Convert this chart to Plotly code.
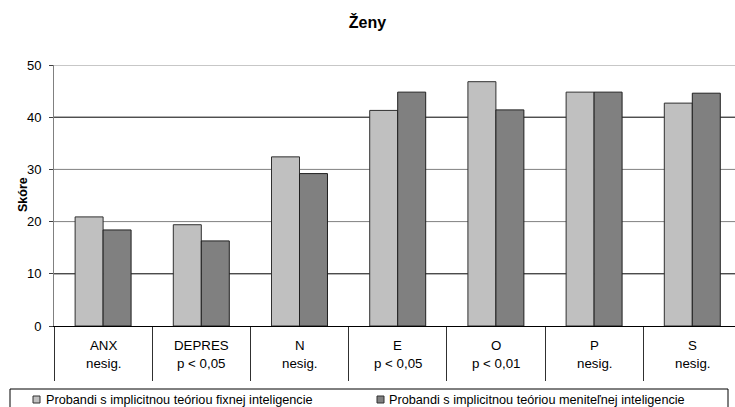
import plotly.graph_objects as go

# Scale scores by personality dimension
categories = ["ANX", "DEPRES", "N", "E", "O", "P", "S"]
significance = ["nesig.", "p < 0,05", "nesig.", "p < 0,05", "p < 0,01", "nesig.", "nesig."]
fixed_theory = [20.9, 19.4, 32.4, 41.3, 46.8, 44.8, 42.7]
growth_theory = [18.4, 16.3, 29.2, 44.8, 41.4, 44.8, 44.6]
series_names = [
    "Probandi s implicitnou teóriou fixnej inteligencie",
    "Probandi s implicitnou teóriou meniteľnej inteligencie",
]
y_ticks = [0, 10, 20, 30, 40, 50]

FONT = "Liberation Sans, Arial, sans-serif"
LIGHT = "#c0c0c0"
DARK = "#808080"

W, H = 735, 407
M_L, M_R, M_T, M_B = 54, 0, 65, 81
plot_h = H - M_T - M_B
plot_w = W - M_L - M_R


def py(px):
    """pixel row -> paper y"""
    return (H - M_B - px) / plot_h


def px_(x):
    """pixel column -> paper x"""
    return (x - M_L) / plot_w


fig = go.Figure()
fig.add_trace(go.Bar(x=categories, y=fixed_theory, name=series_names[0],
                     marker=dict(color=LIGHT, line=dict(color="#303030", width=1))))
fig.add_trace(go.Bar(x=categories, y=growth_theory, name=series_names[1],
                     marker=dict(color=DARK, line=dict(color="#202020", width=1))))

# horizontal gridlines
grid_colors = {10: "#000000", 20: "#808080", 30: "#808080", 40: "#000000", 50: "#909090"}
for v, c in grid_colors.items():
    fig.add_shape(type="line", xref="paper", yref="y", x0=0, x1=1, y0=v, y1=v,
                  line=dict(color=c, width=1), layer="below")

# category table below the axis
annotations = []
for i, (cat, sig) in enumerate(zip(categories, significance)):
    annotations.append(dict(x=i, y=py(345), xref="x", yref="paper", text=cat,
                            showarrow=False, font=dict(family=FONT, size=13.3, color="#000"),
                            xanchor="center", yanchor="middle"))
    annotations.append(dict(x=i, y=py(363), xref="x", yref="paper", text=sig,
                            showarrow=False, font=dict(family=FONT, size=13.3, color="#000"),
                            xanchor="center", yanchor="middle"))

# legend box
fig.add_shape(type="rect", xref="paper", yref="paper", x0=px_(10), x1=px_(728),
              y0=py(389), y1=py(420), line=dict(color="#000", width=1), fillcolor="rgba(0,0,0,0)")
legend_items = [(33, 44, LIGHT), (377, 387, DARK)]
for (mx, tx, col), name in zip(legend_items, series_names):
    fig.add_shape(type="rect", xref="paper", yref="paper", x0=px_(mx), x1=px_(mx + 7),
                  y0=py(403), y1=py(396), line=dict(color="#303030", width=1), fillcolor=col)
    annotations.append(dict(x=px_(tx), y=py(400), xref="paper", yref="paper", text=name,
                            showarrow=False, font=dict(family=FONT, size=12.7, color="#000"),
                            xanchor="left", yanchor="middle"))

annotations.append(dict(x=px_(14), y=py(195), xref="paper", yref="paper", text="<b>Skóre</b>",
                        showarrow=False, textangle=-90,
                        font=dict(family=FONT, size=12.5, color="#000")))

fig.update_layout(
    width=W, height=H,
    margin=dict(l=M_L, r=M_R, t=M_T, b=M_B),
    paper_bgcolor="white", plot_bgcolor="white",
    barmode="group", bargap=0.43, bargroupgap=0,
    showlegend=False,
    title=dict(text="<b>Ženy</b>", x=0.5, xref="container", y=1 - 22 / H,
               yref="container", xanchor="center", yanchor="middle",
               font=dict(family=FONT, size=16, color="#000")),
    annotations=annotations,
    xaxis=dict(range=[-0.5, -0.5 + plot_w / 98.2], showticklabels=False,
               tickson="boundaries", ticks="outside", ticklen=54, tickcolor="#303030",
               tickwidth=1, showgrid=False, showline=True, linecolor="#000", linewidth=1,
               zeroline=False),
    yaxis=dict(range=[0, 50], tickvals=y_ticks, ticks="outside", ticklen=4,
               tickcolor="#404040", showgrid=False, showline=True, linecolor="#808080",
               linewidth=1, zeroline=False, ticklabelstandoff=5,
               tickfont=dict(family=FONT, size=13, color="#000")),
)

fig.write_html("out.html")
